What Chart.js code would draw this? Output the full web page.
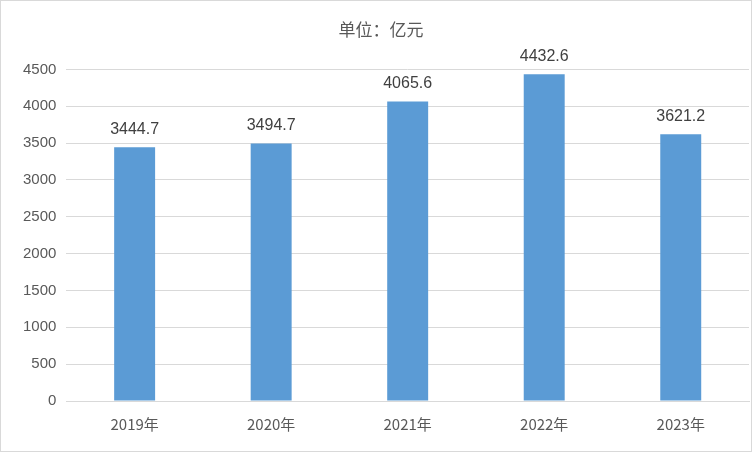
<!DOCTYPE html>
<html>
<head>
<meta charset="utf-8">
<script src="https://cdn.jsdelivr.net/npm/chart.js@4"></script>
<style>
  body { margin: 0; background: #fff; }
  #wrap { width: 750px; height: 450px; border: 1px solid #d9d9d9; }
</style>
</head>
<body>
<div id="wrap"><canvas id="chart"></canvas></div>
<script>
var years = ['2019年', '2020年', '2021年', '2022年', '2023年'];
var values = [3444.7, 3494.7, 4065.6, 4432.6, 3621.2];

// draw value labels above each bar
var barLabels = {
    id: 'barLabels',
    afterDatasetsDraw: function (chart) {
        var ctx = chart.ctx;
        var meta = chart.getDatasetMeta(0);
        ctx.save();
        ctx.font = '16px "Liberation Sans", Arial, sans-serif';
        ctx.fillStyle = '#404040';
        ctx.textAlign = 'center';
        ctx.textBaseline = 'bottom';
        meta.data.forEach(function (bar, i) {
            ctx.fillText(values[i].toFixed(1), bar.x, bar.y - 10);
        });
        ctx.restore();
    }
};

new Chart(document.getElementById('chart'), {
    type: 'bar',
    data: {
        labels: years,
        datasets: [{
            data: values,
            backgroundColor: '#5b9bd5',
            categoryPercentage: 1,
            barPercentage: 0.3
        }]
    },
    options: {
        responsive: true,
        maintainAspectRatio: false,
        animation: false,
        layout: { padding: { left: 12, right: 2, top: 12, bottom: 12 } },
        plugins: {
            legend: { display: false },
            tooltip: { enabled: false },
            title: {
                display: true,
                text: '单位：亿元',
                color: '#595959',
                font: { size: 17, family: '"Noto Sans CJK SC", sans-serif', weight: 'normal' },
                padding: { top: 6, bottom: 30 }
            }
        },
        scales: {
            x: {
                grid: { display: false },
                border: { color: '#d9d9d9' },
                ticks: { color: '#595959', padding: 6, font: { size: 15, family: '"Noto Sans CJK SC", sans-serif' } }
            },
            y: {
                min: 0,
                max: 4500,
                ticks: {
                    stepSize: 500, color: '#595959', padding: 10,
                    font: { size: 15, family: '"Liberation Sans", sans-serif' },
                    callback: function (v) { return String(v); }
                },
                grid: { color: '#d9d9d9', drawTicks: false },
                border: { display: false }
            }
        }
    },
    plugins: [barLabels]
});
</script>
</body>
</html>
